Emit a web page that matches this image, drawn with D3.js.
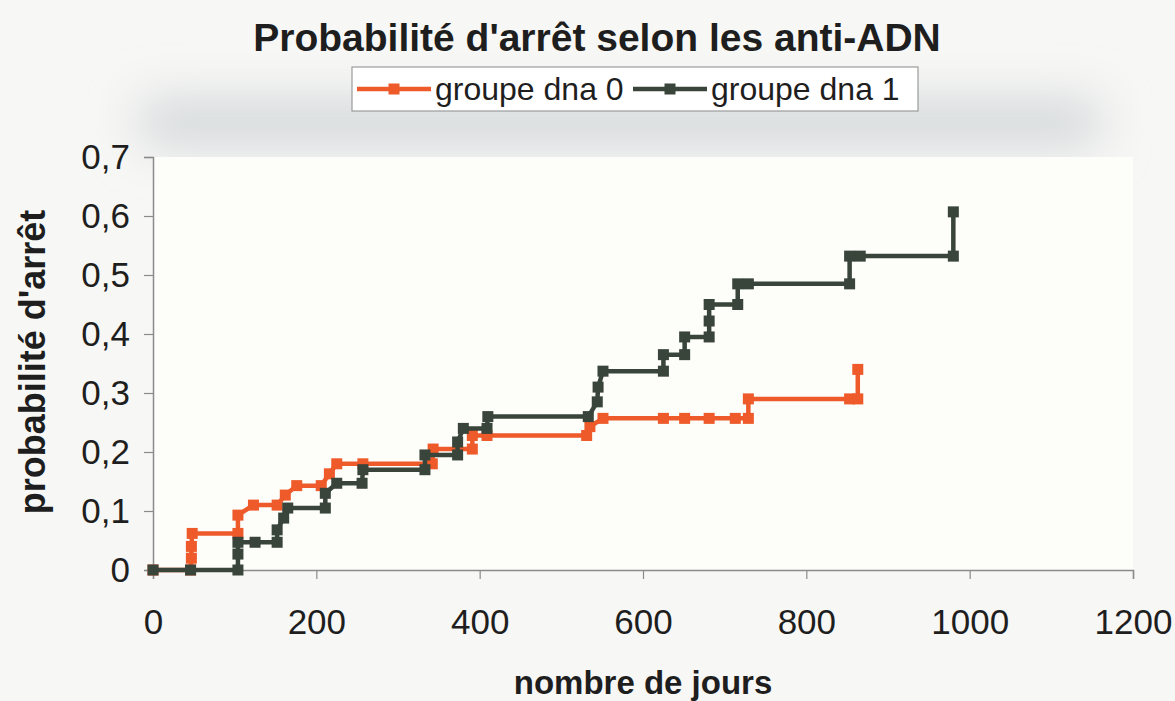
<!DOCTYPE html>
<html>
<head>
<meta charset="utf-8">
<script src="https://cdn.jsdelivr.net/npm/d3@7"></script>
<style>
  body { margin: 0; background: #f7f7f5; }
  text { font-family: "Liberation Sans", Arial, Helvetica, sans-serif; fill: #1e1e1e; }
</style>
</head>
<body>
<svg id="chart"></svg>
<script>
// probabilité d'arrêt (Kaplan-Meier style steps), points as Excel plotted them
var width = 1175;
var height = 701;

var dna0Days = [0, 46, 47, 47, 48, 104, 104, 123, 152, 162, 176, 206, 216, 225, 257, 342, 343, 391, 391, 409, 531, 535, 551, 625, 651, 681, 713, 729, 729, 853, 863, 863];
var dna0Prob = [0, 0, 0.02, 0.04, 0.062, 0.062, 0.093, 0.11, 0.11, 0.127, 0.143, 0.143, 0.163, 0.18, 0.18, 0.18, 0.205, 0.205, 0.228, 0.228, 0.228, 0.243, 0.257, 0.257, 0.257, 0.257, 0.257, 0.257, 0.29, 0.29, 0.29, 0.34];

var dna1Days = [0, 46, 104, 104, 104, 125, 152, 152, 160, 165, 211, 211, 225, 256, 257, 333, 333, 373, 373, 380, 409, 410, 533, 544, 545, 551, 625, 625, 651, 651, 681, 681, 681, 716, 716, 729, 853, 853, 866, 980, 980];
var dna1Prob = [0, 0, 0, 0.027, 0.047, 0.047, 0.047, 0.068, 0.088, 0.105, 0.105, 0.13, 0.147, 0.147, 0.17, 0.17, 0.195, 0.195, 0.217, 0.24, 0.24, 0.26, 0.26, 0.285, 0.31, 0.337, 0.337, 0.365, 0.365, 0.395, 0.395, 0.422, 0.45, 0.45, 0.485, 0.485, 0.485, 0.532, 0.532, 0.532, 0.607];

var seriesNames = ['groupe dna 0', 'groupe dna 1'];
var seriesColors = ['#ee5a2a', '#39443a'];

var xTicks = [0, 200, 400, 600, 800, 1000, 1200];
var yTicks = [0, 0.1, 0.2, 0.3, 0.4, 0.5, 0.6, 0.7];
var yTickLabels = ['0', '0,1', '0,2', '0,3', '0,4', '0,5', '0,6', '0,7'];

var series = [
  {name: seriesNames[0], color: seriesColors[0], pts: dna0Days.map((d, i) => [d, dna0Prob[i]])},
  {name: seriesNames[1], color: seriesColors[1], pts: dna1Days.map((d, i) => [d, dna1Prob[i]])}
];

var x = d3.scaleLinear().domain([0, 1200]).range([153, 1133]);
var y = d3.scaleLinear().domain([0, 0.7]).range([570, 157]);

var svg = d3.select('#chart').attr('width', width).attr('height', height);

// blurred grey band behind the legend (scan look)
var defs = svg.append('defs');
defs.append('filter').attr('id', 'blur')
  .attr('x', '-20%').attr('y', '-150%').attr('width', '140%').attr('height', '400%')
  .append('feGaussianBlur').attr('stdDeviation', 24);

svg.append('rect')
  .attr('x', 140).attr('y', 100).attr('width', 960).attr('height', 45)
  .attr('fill', '#d2d6d9')
  .attr('filter', 'url(#blur)');

svg.append('rect')
  .attr('x', x(0)).attr('y', y(0.7))
  .attr('width', x(1200) - x(0)).attr('height', y(0) - y(0.7))
  .attr('fill', '#fdfdfa');

// title
svg.append('text')
  .attr('x', 597).attr('y', 51)
  .attr('text-anchor', 'middle')
  .style('font-size', '39px')
  .style('font-weight', 'bold')
  .text("Probabilité d'arrêt selon les anti-ADN");

// axes
var yAxis = svg.append('g')
  .attr('transform', `translate(${x(0)},0)`)
  .call(d3.axisLeft(y).tickValues(yTicks).tickFormat((d, i) => yTickLabels[i]).tickSize(9).tickPadding(14));

var xAxis = svg.append('g')
  .attr('transform', `translate(0,${y(0)})`)
  .call(d3.axisBottom(x).tickValues(xTicks).tickFormat(d3.format('d')).tickSize(9).tickPadding(30));

[xAxis, yAxis].forEach(a => {
  a.select('.domain').attr('stroke', '#8a8c8c').attr('stroke-width', 1.5);
  a.selectAll('.tick line').attr('stroke', '#8a8c8c').attr('stroke-width', 1.2);
  a.selectAll('.tick text').style('font-size', '35px').style('font-family', '"Liberation Sans", Arial, sans-serif').attr('fill', '#1e1e1e');
});

svg.append('text')
  .attr('x', 643).attr('y', 694)
  .attr('text-anchor', 'middle')
  .style('font-size', '33px')
  .style('font-weight', 'bold')
  .text('nombre de jours');

svg.append('text')
  .attr('transform', 'translate(45,362) rotate(-90)')
  .attr('text-anchor', 'middle')
  .style('font-size', '36px')
  .style('font-weight', 'bold')
  .text("probabilité d'arrêt");

// series
var line = d3.line().x(d => x(d[0])).y(d => y(d[1]));

var g = svg.append('g');
series.forEach(s => {
  g.append('path')
    .attr('d', line(s.pts))
    .attr('fill', 'none')
    .attr('stroke', s.color)
    .attr('stroke-width', 4.5);
  g.selectAll(null)
    .data(s.pts)
    .enter().append('rect')
    .attr('x', d => x(d[0]) - 5.5)
    .attr('y', d => y(d[1]) - 5.5)
    .attr('width', 11).attr('height', 11)
    .attr('fill', s.color);
});

// legend
var legend = svg.append('g');
legend.append('rect')
  .attr('x', 352).attr('y', 67).attr('width', 566).attr('height', 44)
  .attr('fill', '#ffffff')
  .attr('stroke', '#9a9c9c').attr('stroke-width', 1.2);

var legendX = [357, 633];
series.forEach((s, i) => {
  var lx = legendX[i];
  legend.append('line')
    .attr('x1', lx).attr('x2', lx + 74).attr('y1', 89).attr('y2', 89)
    .attr('stroke', s.color).attr('stroke-width', 4.5);
  legend.append('rect')
    .attr('x', lx + 37 - 5.5).attr('y', 89 - 5.5).attr('width', 11).attr('height', 11)
    .attr('fill', s.color);
  legend.append('text')
    .attr('x', lx + 78).attr('y', 100)
    .style('font-size', '32px')
    .text(s.name);
});
</script>
</body>
</html>
